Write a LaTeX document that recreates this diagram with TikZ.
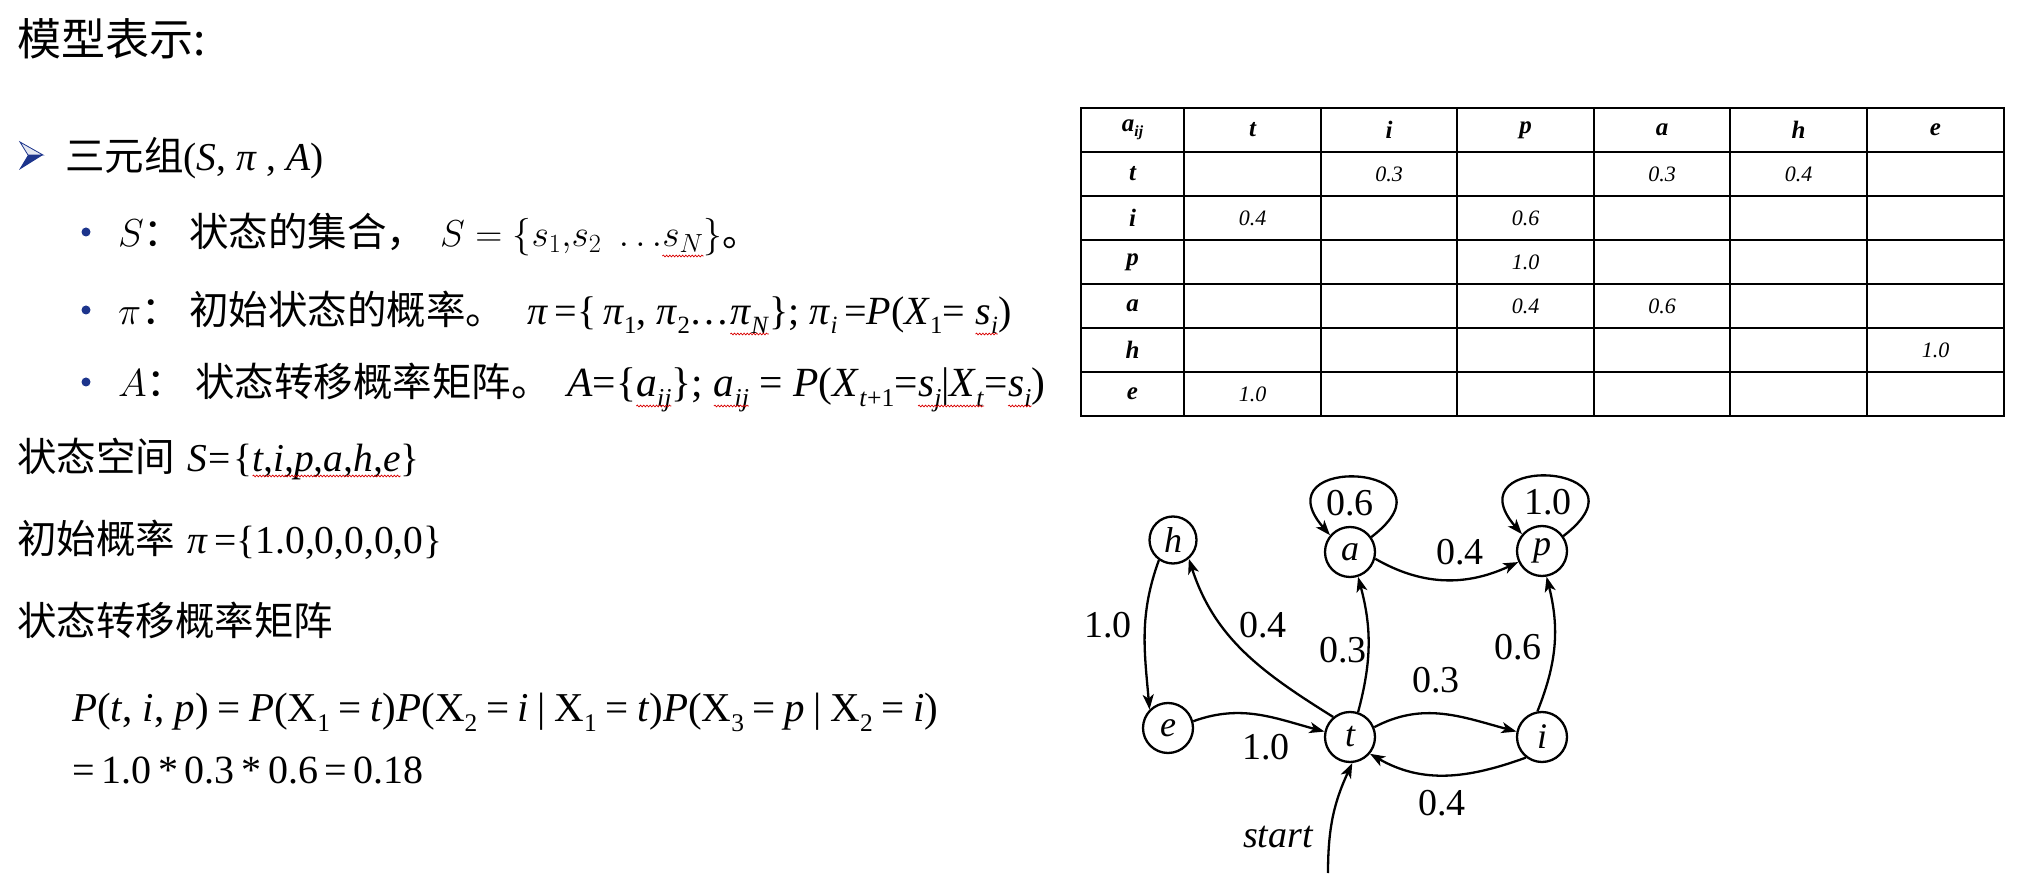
\RequirePackage{fix-cm}
\documentclass[tikz,border=0pt]{standalone}
\usepackage{fontspec}
\usepackage{graphicx}
\usetikzlibrary{arrows.meta,decorations.pathmorphing}
\newfontfamily\cjk{Noto Sans CJK SC}
\newfontfamily\tnr{Liberation Serif}
\definecolor{navy}{RGB}{28,52,140}
\newcommand\iT[1]{\textit{#1}}
\newcommand\sbs[1]{\raisebox{-0.22em}{\scalebox{0.62}{#1}}}
\newcommand\gp{\hspace{0.21em}}
\newcommand\rw[2][5pt]{\tikz[baseline=(rwx.base)]{\node[inner sep=0pt, outer sep=0pt, anchor=center, draw=none] (rwx) {#2};
  \draw[red!85!black, line width=0.7pt, decorate, decoration={snake, amplitude=0.9pt, segment length=3.2pt}]
    ([yshift=-#1]rwx.base west) -- ([yshift=-#1]rwx.base east);}}
\tikzset{
  txt/.style={anchor=base west, inner sep=0pt},
  cjkt/.style={txt, font=\cjk\fontsize{39.5}{46}\selectfont},
  tnrt/.style={txt, font=\tnr\fontsize{40}{48}\selectfont},
  cmt/.style={txt, font=\fontsize{39}{46}\selectfont},
  state/.style={draw, circle, line width=2.3pt, minimum size=50pt, inner sep=0pt,
    font=\tnr\itshape\fontsize{36}{40}\selectfont},
  edge/.style={-{Stealth[length=15pt,width=11pt,inset=4pt]}, line width=2.3pt},
  lbl/.style={inner sep=0pt, font=\tnr\fontsize{38}{40}\selectfont},
  tbl/.style={line width=2.6pt, line cap=square},
  th/.style={inner sep=0pt, font=\tnr\bfseries\itshape\fontsize{25}{28}\selectfont},
  tv/.style={inner sep=0pt, font=\tnr\itshape\fontsize{22}{26}\selectfont},
  dot/.style={circle, fill=navy, inner sep=0pt, minimum size=9pt}
}
\begin{document}
\begin{tikzpicture}[x=1pt, y=1pt]
\useasboundingbox[fill=white] (0,0) rectangle (2040,892);

% ---------- left text ----------
\node[txt, font=\cjk\fontsize{44}{50}\selectfont] (title) at (17,836) {模型表示:};

% arrow bullet
\fill[navy] (28,737) -- (43,737) -- (19,722) -- cycle;
\filldraw[draw=navy, fill=navy!12, line width=0.8pt] (20,750) -- (43,737) -- (28,737) -- cycle;
\node[cjkt] (tri) at (65,721) {三元组{\tnr(\iT{S}, \iT{π} , \iT{A})}};

% bullet lines
\node[dot] (b1) at (86,660) {};
\node[cmt] (s1) at (118,645) {$S$\cjk：};
\node[cjkt] (s2) at (189,645) {状态的集合，};
\node[txt, font=\fontsize{37.5}{44}\selectfont] (s3) at (440,645)
  {$S=\{s_1{,}s_2\ \ldots$\rw[9pt]{$s_N$}$\}$\cjk 。};

\node[dot] (b2) at (86,582) {};
\node[cmt] (p1) at (118,567) {$\pi$\cjk：};
\node[cjkt] (p2) at (189,567) {初始状态的概率。};
\node[tnrt] (p3) at (527,567)
  {\iT{π}\,=\{\,\iT{π}\sbs{1}, \iT{π}\sbs{2}…\rw[9pt]{\iT{π}\sbs{\iT{N}}}\}; \iT{π}\sbs{\iT{i}}\,=\iT{P}(\iT{X}\sbs{1}= \rw[9pt]{\iT{s}\sbs{\iT{i}}})};

\node[dot] (b3) at (86,510) {};
\node[cmt] (a1) at (118,495) {$A$\cjk：};
\node[cjkt] (a2) at (195,495) {状态转移概率矩阵。};
\node[tnrt, font=\tnr\fontsize{41.5}{48}\selectfont] (a3) at (567,495)
  {\iT{A}=\{\rw[9pt]{\iT{a}\sbs{\iT{ij}}}\}; \rw[9pt]{\iT{a}\sbs{\iT{ij}}} = \iT{P}(\iT{X}\sbs{\iT{t}+1}=\rw[9pt]{\iT{s}\sbs{\iT{j}}|\iT{X}\sbs{\iT{t}}}=\rw[9pt]{\iT{s}\sbs{\iT{i}}})};

\node[cjkt] (ss) at (17,420) {状态空间\hspace{12pt}{\tnr\iT{S}\hspace{2pt}=\hspace{2pt}\{\rw[4pt]{\iT{t,i,p,a,h,e}}\}}};
\node[cjkt] (pi) at (17,338) {初始概率\hspace{12pt}{\tnr\iT{π}\,=\{1.0,0,0,0,0\}}};
\node[cjkt] (tm) at (17,256) {状态转移概率矩阵};

\node[tnrt, font=\tnr\fontsize{41}{48}\selectfont] (f1) at (72,170)
  {\iT{P}(\iT{t}, \iT{i}, \iT{p})\gp=\gp\iT{P}(X\sbs{1}\gp=\gp\iT{t})\iT{P}(X\sbs{2}\gp=\gp\iT{i}\gp|\gp X\sbs{1}\gp=\gp\iT{t})\iT{P}(X\sbs{3}\gp=\gp\iT{p}\gp|\gp X\sbs{2}\gp=\gp\iT{i})};
\node[tnrt] (f2) at (72,109) {=\,1.0\,*\,0.3\,*\,0.6\,=\,0.18};

% ---------- table ----------
\foreach \x in {1184,1321,1457,1594,1730,1867}
  \draw[tbl] (\x,476) -- (\x,784);
\foreach \y in {520,564,608,652,696,740}
  \draw[tbl] (1081,\y) -- (2004,\y);
\draw[tbl] (1081,476) rectangle (2004,784);

\node[th] (h-a) at (1132.5,762) {a\sbs{ij}};
\node[th] (h-t) at (1252.5,762) {t};
\node[th] (h-i) at (1389,762) {i};
\node[th] (h-p) at (1525.5,762) {p};
\node[th] (h-aa) at (1662,762) {a};
\node[th] (h-h) at (1798.5,762) {h};
\node[th] (h-e) at (1935.5,762) {e};
\node[th] (r-t) at (1132.5,718) {t};
\node[th] (r-i) at (1132.5,674) {i};
\node[th] (r-p) at (1132.5,630) {p};
\node[th] (r-a) at (1132.5,586) {a};
\node[th] (r-h) at (1132.5,542) {h};
\node[th] (r-e) at (1132.5,498) {e};
\node[tv] (v-ti) at (1389,718) {0.3};
\node[tv] (v-ta) at (1662,718) {0.3};
\node[tv] (v-th) at (1798.5,718) {0.4};
\node[tv] (v-it) at (1252.5,674) {0.4};
\node[tv] (v-ip) at (1525.5,674) {0.6};
\node[tv] (v-pp) at (1525.5,630) {1.0};
\node[tv] (v-ap) at (1525.5,586) {0.4};
\node[tv] (v-aa) at (1662,586) {0.6};
\node[tv] (v-he) at (1935.5,542) {1.0};
\node[tv] (v-et) at (1252.5,498) {1.0};

% ---------- graph ----------
\node[state, minimum size=47pt] (h) at (1173,352) {h};
\node[state] (a) at (1350,340) {a};
\node[state] (p) at (1542,341) {p};
\node[state] (e) at (1168,164) {e};
\node[state] (t) at (1350,155) {t};
\node[state] (i) at (1542,155) {i};
\coordinate (s0) at (1328,19);

\draw[edge] (a.35) .. controls +(95,73) and +(-72,83) .. (a.140);
\draw[edge] (p.35) .. controls +(95,73) and +(-72,83) .. (p.140);
\draw[edge] (a.-15) to[out=-30, in=205] (p.205);
\draw[edge] (t.72) to[bend right=15] (a.-72);
\draw[edge] (t.130) to[out=148, in=-72] (h.-50);
\draw[edge] (h.235) to[out=250, in=95] (e.135);
\draw[edge] (e.15) to[out=20, in=165] (t.168);
\draw[edge] (t.22) to[out=28, in=165] (i.168);
\draw[edge] (i.232) to[out=200, in=-30] (t.-40);
\draw[edge] (i.100) to[bend right=18] (p.-80);
\draw[edge] (s0) to[out=90, in=245] (t.-85);

\node[lbl] (l-aa) at (1350,389) {0.6};
\node[lbl] (l-pp) at (1548,390) {1.0};
\node[lbl] (l-ap) at (1460,340) {0.4};
\node[lbl] (l-he) at (1108,267) {1.0};
\node[lbl] (l-th) at (1263,267) {0.4};
\node[lbl] (l-ta) at (1343,242) {0.3};
\node[lbl] (l-ip) at (1518,245) {0.6};
\node[lbl] (l-ti) at (1436,212) {0.3};
\node[lbl] (l-et) at (1266,145) {1.0};
\node[lbl] (l-it) at (1442,89) {0.4};
\node[lbl, font=\tnr\itshape\fontsize{38}{40}\selectfont] (l-st) at (1278,55) {start};
\end{tikzpicture}
\end{document}
